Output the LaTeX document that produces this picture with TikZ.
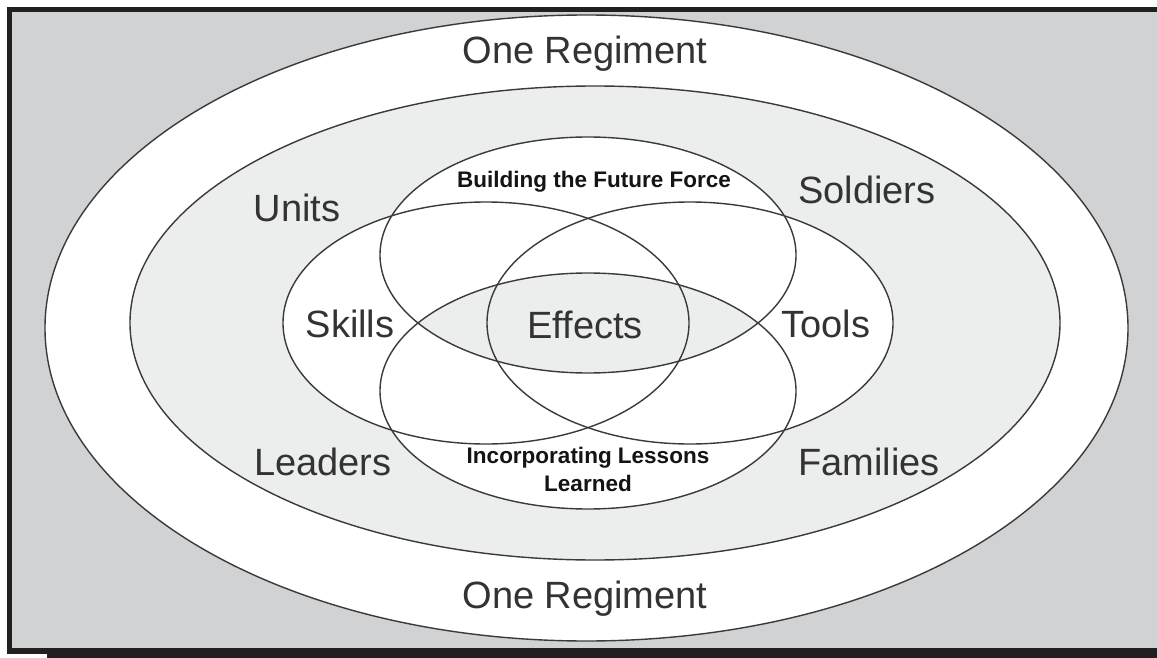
\documentclass[tikz,border=0pt]{standalone}
\usepackage{fontspec}
\setmainfont{Liberation Sans}
\definecolor{bggray}{HTML}{D1D2D4}
\definecolor{ringgray}{HTML}{ECEDED}
\definecolor{linegray}{HTML}{3A3A3A}
\definecolor{txtgray}{HTML}{333333}
\definecolor{framecol}{HTML}{231F20}
\begin{document}
\begin{tikzpicture}[x=1pt,y=-1pt,
  outline/.style={draw=linegray,line width=1.4pt},
  biglabel/.style={text=txtgray,font=\fontsize{38}{40}\selectfont,inner sep=0pt,anchor=base},
  boldlabel/.style={text=black!92,font=\bfseries\fontsize{22.5}{28}\selectfont,inner sep=0pt,align=center}]
\useasboundingbox (0,0) rectangle (1157,658);
\fill[white] (0,0) rectangle (1157,658);
\fill[bggray] (9,9) rectangle (1157,651);
% frame
\fill[framecol] (7,7) rectangle (1157,12);
\fill[framecol] (7,7) rectangle (12,654);
\fill[framecol] (7,648) rectangle (47,654);
\fill[framecol] (47,648) rectangle (1157,658);
% outer rings
\path[outline,fill=white] (586.5,328) ellipse [x radius=541.5pt, y radius=313pt];
\path[outline,fill=ringgray] (595,323) ellipse [x radius=465pt, y radius=237pt];
% inner ellipses: white fill
\fill[white] (588,255) ellipse [x radius=208pt, y radius=118pt];
\fill[white] (588,391) ellipse [x radius=208pt, y radius=118pt];
\fill[white] (486,323) ellipse [x radius=203pt, y radius=121pt];
\fill[white] (690,323) ellipse [x radius=203pt, y radius=121pt];
% common lens
\begin{scope}
  \clip (588,255) ellipse [x radius=208pt, y radius=118pt];
  \fill[ringgray] (588,391) ellipse [x radius=208pt, y radius=118pt];
\end{scope}
% outlines
\draw[outline] (588,255) ellipse [x radius=208pt, y radius=118pt];
\draw[outline] (588,391) ellipse [x radius=208pt, y radius=118pt];
\draw[outline] (486,323) ellipse [x radius=203pt, y radius=121pt];
\draw[outline] (690,323) ellipse [x radius=203pt, y radius=121pt];
% labels
\node[biglabel] (topreg) at (585,64) {One Regiment};
\node[biglabel] (botreg) at (585,608) {One Regiment};
\node[biglabel] (units) at (297,221) {Units};
\node[biglabel] (soldiers) at (867,204) {Soldiers};
\node[biglabel] (skills) at (350,337) {Skills};
\node[biglabel] (effects) at (585,338) {Effects};
\node[biglabel] (tools) at (826,337) {Tools};
\node[biglabel] (leaders) at (323,475) {Leaders};
\node[biglabel] (families) at (869,475) {Families};
\node[boldlabel,anchor=base] (future) at (594,188) {Building the Future Force};
\node[boldlabel,anchor=base] (lessons1) at (588,463) {Incorporating Lessons};
\node[boldlabel,anchor=base] (lessons2) at (588,491) {Learned};
\end{tikzpicture}
\end{document}
